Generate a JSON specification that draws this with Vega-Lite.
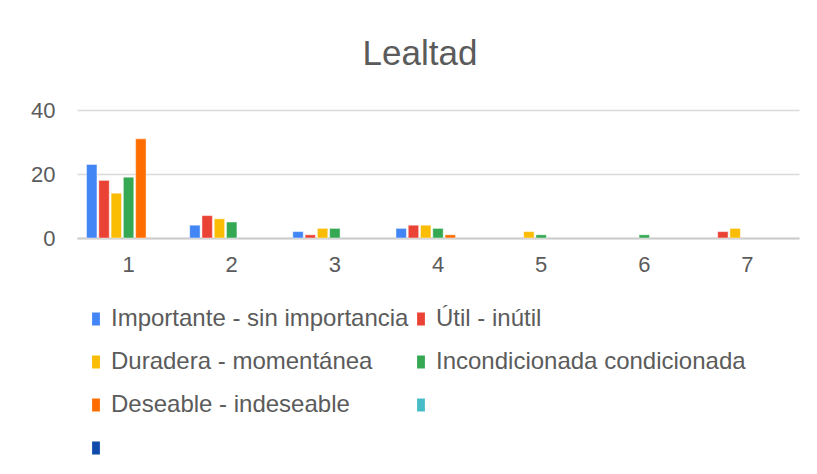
{
  "$schema": "https://vega.github.io/schema/vega-lite/v6.json",
  "width": 722,
  "height": 128,
  "autosize": {"type": "none"},
  "padding": {"left": 77, "top": 110, "right": 18, "bottom": 236},
  "background": "white",
  "title": {
    "text": "Lealtad",
    "fontSize": 35,
    "fontWeight": "normal",
    "font": "Liberation Sans",
    "color": "#5b5b5b",
    "anchor": "middle",
    "dx": -18,
    "offset": 27
  },
  "data": {
    "values": [
      {"grupo": "1", "serie": "Importante - sin importancia", "valor": 23},
      {"grupo": "1", "serie": "Útil - inútil", "valor": 18},
      {"grupo": "1", "serie": "Duradera - momentánea", "valor": 14},
      {"grupo": "1", "serie": "Incondicionada condicionada", "valor": 19},
      {"grupo": "1", "serie": "Deseable - indeseable", "valor": 31},
      {"grupo": "2", "serie": "Importante - sin importancia", "valor": 4},
      {"grupo": "2", "serie": "Útil - inútil", "valor": 7},
      {"grupo": "2", "serie": "Duradera - momentánea", "valor": 6},
      {"grupo": "2", "serie": "Incondicionada condicionada", "valor": 5},
      {"grupo": "3", "serie": "Importante - sin importancia", "valor": 2},
      {"grupo": "3", "serie": "Útil - inútil", "valor": 1},
      {"grupo": "3", "serie": "Duradera - momentánea", "valor": 3},
      {"grupo": "3", "serie": "Incondicionada condicionada", "valor": 3},
      {"grupo": "4", "serie": "Importante - sin importancia", "valor": 3},
      {"grupo": "4", "serie": "Útil - inútil", "valor": 4},
      {"grupo": "4", "serie": "Duradera - momentánea", "valor": 4},
      {"grupo": "4", "serie": "Incondicionada condicionada", "valor": 3},
      {"grupo": "4", "serie": "Deseable - indeseable", "valor": 1},
      {"grupo": "5", "serie": "Duradera - momentánea", "valor": 2},
      {"grupo": "5", "serie": "Incondicionada condicionada", "valor": 1},
      {"grupo": "6", "serie": "Incondicionada condicionada", "valor": 1},
      {"grupo": "7", "serie": "Útil - inútil", "valor": 2},
      {"grupo": "7", "serie": "Duradera - momentánea", "valor": 3}
    ]
  },
  "mark": {"type": "bar", "stroke": "white", "strokeOpacity": 0.45, "strokeWidth": 1},
  "encoding": {
    "x": {
      "field": "grupo",
      "type": "nominal",
      "scale": {"domain": ["1", "2", "3", "4", "5", "6", "7"], "paddingInner": 0.185, "paddingOuter": 0.0925},
      "axis": {
        "title": null,
        "labelAngle": 0,
        "ticks": false,
        "labelPadding": 16,
        "labelFontSize": 22,
        "labelFont": "Liberation Sans",
        "labelColor": "#5b5b5b",
        "domainColor": "#cccccc",
        "domainWidth": 2
      }
    },
    "xOffset": {
      "field": "serie",
      "type": "nominal",
      "scale": {
        "domain": ["Importante - sin importancia", "Útil - inútil", "Duradera - momentánea", "Incondicionada condicionada", "Deseable - indeseable", " ", "  "],
        "paddingInner": 0.15
      }
    },
    "y": {
      "field": "valor",
      "type": "quantitative",
      "scale": {"domain": [0, 40], "nice": false},
      "axis": {
        "title": null,
        "values": [0, 20, 40],
        "ticks": false,
        "domain": false,
        "labelPadding": 22,
        "labelFontSize": 22,
        "labelFont": "Liberation Sans",
        "labelColor": "#5b5b5b",
        "gridColor": "#dadada",
        "gridWidth": 1.5
      }
    },
    "color": {
      "field": "serie",
      "type": "nominal",
      "scale": {
        "domain": ["Importante - sin importancia", "Útil - inútil", "Duradera - momentánea", "Incondicionada condicionada", "Deseable - indeseable", " ", "  "],
        "range": ["#4285F4", "#EA4335", "#FBBC04", "#34A853", "#FF6D01", "#46BDC6", "#0F4AA8"]
      },
      "legend": {
        "title": null,
        "orient": "none",
        "legendX": 7,
        "legendY": 197,
        "direction": "horizontal",
        "columns": 2,
        "columnPadding": 0,
        "rowPadding": 19,
        "padding": 0,
        "symbolType": "M-0.6,-1H0.6V1H-0.6Z",
        "symbolSize": 169,
        "symbolStrokeWidth": 0,
        "labelFontSize": 24,
        "labelFont": "Liberation Sans",
        "labelColor": "#5b5b5b",
        "labelOffset": 3,
        "labelLimit": 0,
        "labelExpr": "trim(datum.label)"
      }
    }
  },
  "config": {
    "view": {"stroke": null}
  }
}
